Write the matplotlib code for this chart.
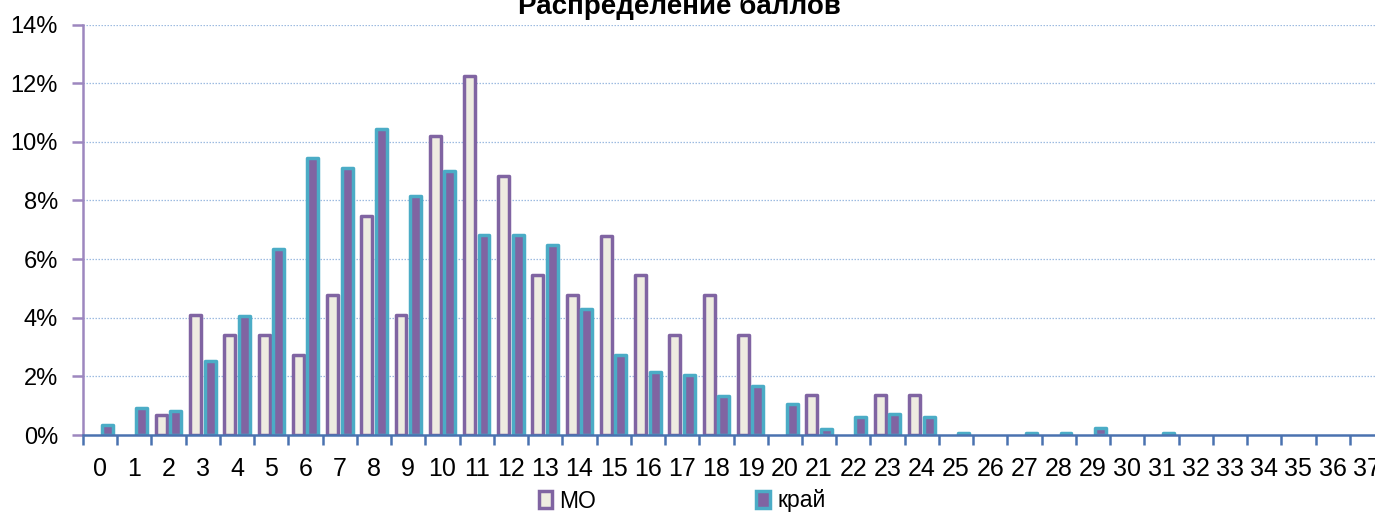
import matplotlib
matplotlib.use("Agg")
import matplotlib.pyplot as plt
import numpy as np
from matplotlib.patches import Patch
from matplotlib.ticker import FixedLocator, PercentFormatter

# ---- data ----
scores = list(range(0, 38))
mo = [0, 0, 0.68, 4.08, 3.40, 3.40, 2.72, 4.76, 7.48, 4.08,
      10.20, 12.24, 8.84, 5.44, 4.76, 6.80, 5.44, 3.40, 4.76, 3.40,
      0, 1.36, 0, 1.36, 1.36, 0, 0, 0, 0, 0,
      0, 0, 0, 0, 0, 0, 0, 0]
krai = [0.35, 0.93, 0.83, 2.52, 4.05, 6.33, 9.45, 9.10, 10.42, 8.15,
        9.00, 6.83, 6.83, 6.49, 4.31, 2.74, 2.15, 2.04, 1.33, 1.67,
        1.07, 0.22, 0.60, 0.72, 0.60, 0.07, 0, 0.07, 0.07, 0.24,
        0, 0.07, 0, 0, 0, 0, 0, 0]
series_names = ["МО", "край"]
title = "Распределение баллов"
yticks = [0, 2, 4, 6, 8, 10, 12, 14]

# ---- style ----
FONT = ["Liberation Sans", "DejaVu Sans"]
plt.rcParams['font.family'] = FONT

mo_fill, mo_edge = "#EEECE1", "#8064A2"
kr_fill, kr_edge = "#8064A2", "#4BACC6"

W, H = 1375, 513
fig = plt.figure(figsize=(W / 100, H / 100), dpi=100)
ax = fig.add_axes([83 / W, 1 - 435 / H, (1384 - 83) / W, (435 - 24.5) / H])

x = np.array(scores, dtype=float)
mo_a = np.array(mo)
kr_a = np.array(krai)
bw = 0.32
off = 0.212
m1 = mo_a > 0
m2 = kr_a > 0
ax.bar(x[m1] - off, mo_a[m1], width=bw, color=mo_fill, edgecolor=mo_edge,
       linewidth=2.5, joinstyle='round', zorder=3)
ax.bar(x[m2] + off, kr_a[m2], width=bw, color=kr_fill, edgecolor=kr_edge,
       linewidth=2.5, joinstyle='round', zorder=3)

ax.set_xlim(-0.5, len(scores) - 0.5)
ax.set_ylim(0, 14)

# y axis
ax.set_yticks(yticks)
ax.yaxis.set_major_formatter(PercentFormatter(decimals=0))
ax.tick_params(axis='y', direction='out', length=8, width=1.8, color="#9D87BF",
               pad=10, labelsize=17)
for g in yticks[1:]:
    ax.axhline(g, color="#9DBBE0", linewidth=0.9, linestyle=(0, (1.2, 1.2)), zorder=1)

# x axis
ax.set_xticks(x)
ax.set_xticklabels([str(s) for s in scores])
ax.xaxis.set_minor_locator(FixedLocator(np.arange(-0.5, len(scores), 1.0)))
ax.tick_params(axis='x', which='major', length=0, pad=16, labelsize=18)
ax.tick_params(axis='x', which='minor', direction='out', length=7, width=1.8,
               color="#4A72B0")

for s in ['top', 'right']:
    ax.spines[s].set_visible(False)
ax.spines['left'].set_color("#9D87BF")
ax.spines['left'].set_linewidth(1.8)
ax.spines['bottom'].set_color("#4A72B0")
ax.spines['bottom'].set_linewidth(1.8)
ax.spines['bottom'].set_zorder(4)

# title (clipped at top as in the reference)
fig.text(679 / W, 1 - 14 / H, title, ha='center', va='baseline',
         fontsize=20, fontweight='bold')

handles = [Patch(facecolor=mo_fill, edgecolor=mo_edge, linewidth=2.5),
           Patch(facecolor=kr_fill, edgecolor=kr_edge, linewidth=2.5)]
fig.legend(handles, series_names, loc='center', bbox_to_anchor=(682 / W, 1 - 501 / H),
           ncol=2, frameon=False, fontsize=16.5, handlelength=0.6, handleheight=0.75,
           handletextpad=0.3, columnspacing=7.0, borderpad=0)

fig.savefig("out.png", dpi=100)
